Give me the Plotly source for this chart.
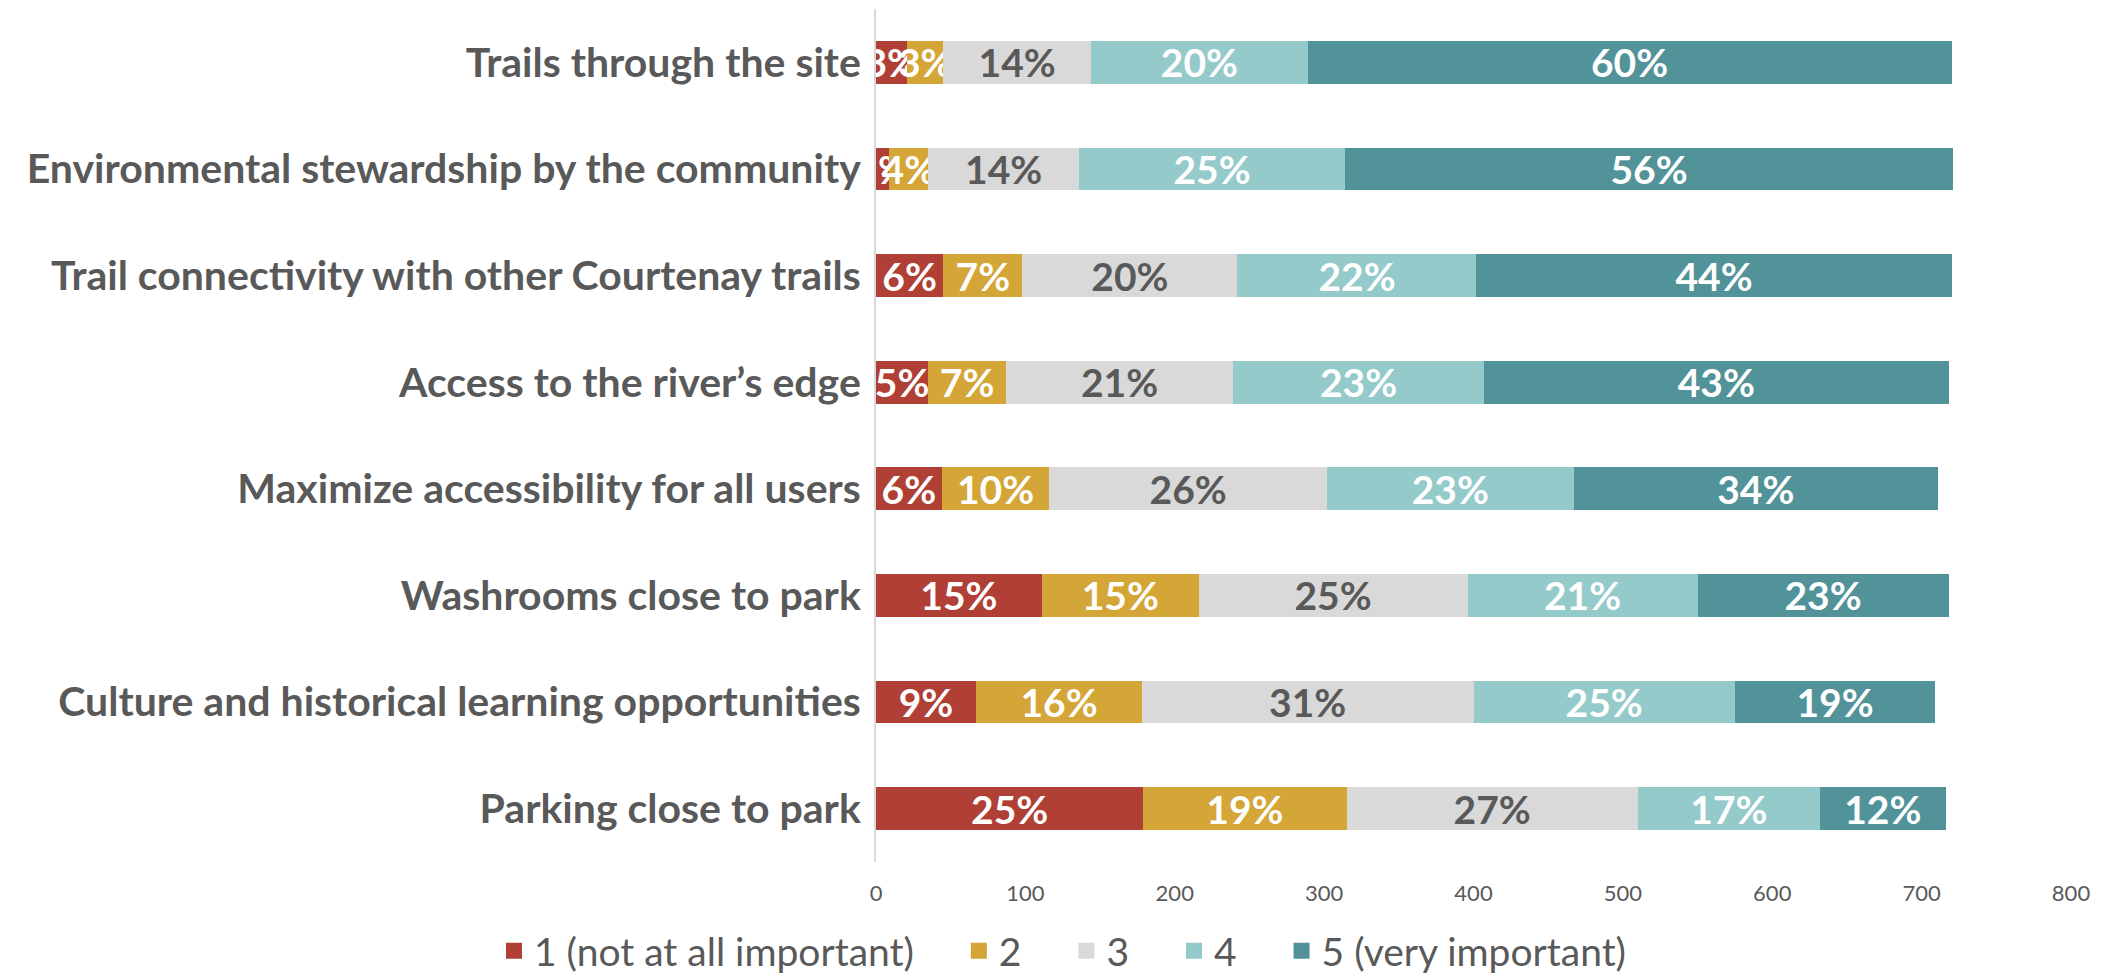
import plotly.graph_objects as go

categories = [
    "Trails through the site",
    "Environmental stewardship by the community",
    "Trail connectivity with other Courtenay trails",
    "Access to the river’s edge",
    "Maximize accessibility for all users",
    "Washrooms close to park",
    "Culture and historical learning opportunities",
    "Parking close to park",
]

series_names = ["1 (not at all important)", "2", "3", "4", "5 (very important)"]

r1 = [21, 9, 45, 35, 44, 111, 67, 179]
r2 = [24, 26, 53, 52, 72, 105, 111, 136]
r3 = [99, 101, 144, 152, 186, 180, 222, 195]
r4 = [145, 178, 160, 168, 165, 154, 175, 122]
r5 = [431, 407, 318, 311, 244, 168, 134, 84]

x_ticks = [0, 100, 200, 300, 400, 500, 600, 700, 800]

colors = ["#B03F35", "#D4A537", "#D9D9D9", "#95CACB", "#529399"]
text_colors = ["white", "white", "#595959", "white", "white"]

series = [r1, r2, r3, r4, r5]
totals = [sum(v) for v in zip(*series)]

fig = go.Figure()
for i, (name, vals, col, tcol) in enumerate(zip(series_names, series, colors, text_colors)):
    pct = [f"{round(v / t * 100):.0f}%" for v, t in zip(vals, totals)]
    fig.add_trace(go.Bar(
        y=categories, x=vals, orientation="h", name=name,
        marker=dict(color=col, line=dict(width=0)),
        text=pct, textposition="inside", insidetextanchor="middle",
        textangle=0,
        textfont=dict(family="Lato", size=39, color=tcol, weight="bold"),
        showlegend=False,
    ))
    pad = "\u00a0" * 4 if i < len(series_names) - 1 else ""
    fig.add_trace(go.Scatter(
        x=[None], y=[None], mode="markers", name=name + pad,
        marker=dict(symbol="square", size=22, color=col),
        showlegend=True,
    ))

fig.update_layout(
    barmode="stack",
    bargap=0.6,
    width=2110, height=968,
    plot_bgcolor="white", paper_bgcolor="white",
    margin=dict(l=868, r=47, t=1, b=114, autoexpand=False),
    uniformtext=dict(minsize=39, mode="show"),
    font=dict(family="Lato", color="#595959"),
    legend=dict(
        orientation="h", xref="container", yref="container",
        x=0.5, xanchor="center", y=0.026, yanchor="middle",
        font=dict(size=39, color="#595959"),
        itemwidth=30, traceorder="normal",
    ),
    xaxis=dict(
        range=[0, 800], tickvals=x_ticks, showgrid=False, zeroline=False,
        showline=False, tickfont=dict(size=22, color="#595959"),
        ticklabelstandoff=16, automargin=False,
    ),
    yaxis=dict(
        categoryorder="array", categoryarray=categories, autorange="reversed",
        showline=True, linecolor="#D9D9D9", linewidth=2, showgrid=False,
        tickfont=dict(size=41, color="#595959", weight="bold"),
        ticks="", ticklabelstandoff=5, automargin=False,
    ),
)

fig.write_html("out.html")
